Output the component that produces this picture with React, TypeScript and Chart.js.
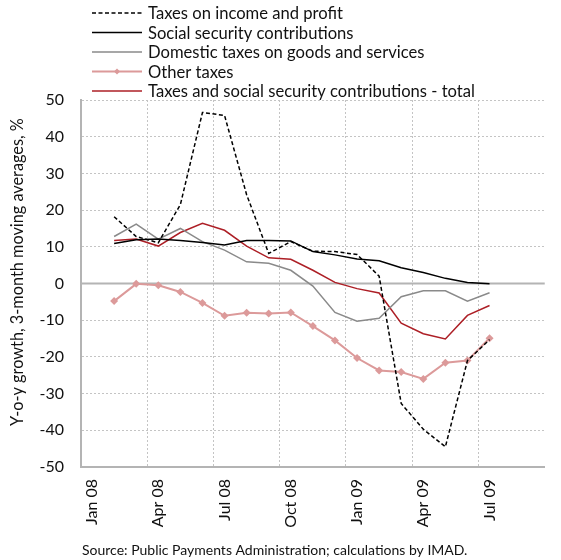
import React, { useEffect, useRef } from "react";
import { Chart, registerables } from "chart.js";

Chart.register(...registerables);

// Monthly categories, Jan 08 – Sep 09
const months = [
  "Jan 08", "Feb 08", "Mar 08", "Apr 08", "May 08", "Jun 08", "Jul 08",
  "Aug 08", "Sep 08", "Oct 08", "Nov 08", "Dec 08", "Jan 09", "Feb 09",
  "Mar 09", "Apr 09", "May 09", "Jun 09", "Jul 09", "Aug 09", "Sep 09",
];

// Y-o-y growth, 3-month moving averages, % (Feb 08 – Jul 09)
const incomeProfit = [null, 18.2, 12.8, 11.1, 21.5, 46.6, 45.8, 24.2, 8.2, 11.4, 8.8, 8.7, 7.9, 2.0, -32.7, -39.7, -44.5, -21.0, -15.3, null, null];
const socialSecurity = [null, 10.9, 11.9, 12.1, 11.7, 11.2, 10.5, 11.7, 11.7, 11.6, 8.7, 7.8, 6.7, 6.2, 4.3, 3.0, 1.4, 0.3, -0.1, null, null];
const domesticGoods = [null, 12.8, 16.2, 12.1, 15.0, 11.4, 9.1, 5.9, 5.5, 3.6, -0.7, -7.9, -10.3, -9.5, -3.6, -2.0, -2.0, -4.8, -2.5, null, null];
const otherTaxes = [null, -4.8, -0.1, -0.5, -2.3, -5.3, -8.8, -8.0, -8.2, -7.9, -11.6, -15.5, -20.3, -23.7, -24.1, -26.0, -21.6, -21.0, -14.9, null, null];
const totalTaxes = [null, 11.7, 12.1, 10.2, 13.9, 16.4, 14.5, 10.2, 7.0, 6.6, 3.6, 0.3, -1.4, -2.6, -10.8, -13.7, -15.1, -8.7, -6.0, null, null];

const yTicks = { min: -50, max: 50, step: 10 };

const FONT = "Lato, 'Open Sans', sans-serif";
const GRID = "#c4c4c4";
const AXIS = "#b4b4b4";

const overlay = {
  id: "overlay",
  beforeDatasetsDraw(chart: any) {
    const { ctx, chartArea, scales } = chart;
    const y0 = scales.y.getPixelForValue(0);
    ctx.save();
    ctx.strokeStyle = AXIS;
    ctx.lineWidth = 2;
    ctx.beginPath();
    ctx.moveTo(chartArea.left, y0);
    ctx.lineTo(chartArea.right, y0);
    ctx.stroke();
    ctx.restore();
  },
  afterDraw(chart: any) {
    const { ctx } = chart;
    ctx.save();
    // legend, one entry per row
    chart.data.datasets.forEach((ds: any, i: number) => {
      const y = 13 + i * 19.5;
      ctx.save();
      ctx.strokeStyle = ds.borderColor;
      ctx.lineWidth = ds.borderWidth;
      ctx.setLineDash(ds.borderDash || []);
      ctx.beginPath();
      ctx.moveTo(92, y);
      ctx.lineTo(142, y);
      ctx.stroke();
      ctx.restore();
      if (ds.pointRadius > 0) {
        ctx.save();
        ctx.fillStyle = ds.pointBackgroundColor;
        ctx.beginPath();
        ctx.moveTo(117, y - 3);
        ctx.lineTo(120, y);
        ctx.lineTo(117, y + 3);
        ctx.lineTo(114, y);
        ctx.closePath();
        ctx.fill();
        ctx.restore();
      }
      ctx.fillStyle = "#111";
      ctx.font = `16.6px ${FONT}`;
      ctx.textBaseline = "middle";
      ctx.textAlign = "left";
      ctx.fillText(ds.label, 148, y + 1);
    });

    // y axis title
    ctx.save();
    ctx.translate(18, 272);
    ctx.rotate(-Math.PI / 2);
    ctx.font = `16.3px ${FONT}`;
    ctx.fillStyle = "#111";
    ctx.textAlign = "center";
    ctx.textBaseline = "middle";
    ctx.fillText("Y-o-y growth, 3-month moving averages, %", 0, 0);
    ctx.restore();

    // source note
    ctx.font = `14px ${FONT}`;
    ctx.fillStyle = "#111";
    ctx.textAlign = "left";
    ctx.textBaseline = "middle";
    ctx.fillText("Source: Public Payments Administration; calculations by IMAD.", 82, 550);
    ctx.restore();
  },
};

export default function App() {
  const canvasRef = useRef<HTMLCanvasElement>(null);

  useEffect(() => {
    const canvas = canvasRef.current;
    if (!canvas) return;
    const line = (label: string, data: any[], color: string, extra: any = {}) => ({
      label,
      data,
      borderColor: color,
      backgroundColor: color,
      borderWidth: 1.5,
      pointRadius: 0,
      tension: 0,
      spanGaps: false,
      ...extra,
    });
    const chart = new Chart(canvas, {
      type: "line",
      data: {
        labels: months,
        datasets: [
          line("Taxes on income and profit", incomeProfit, "#000000", { borderDash: [4, 2.5] }),
          line("Social security contributions", socialSecurity, "#000000"),
          line("Domestic taxes on goods and services", domesticGoods, "#8a8a8a"),
          line("Other taxes", otherTaxes, "#dc9a9a", {
            borderWidth: 2,
            pointRadius: 4,
            pointStyle: "rectRot",
            pointBackgroundColor: "#dc9a9a",
            pointBorderColor: "#dc9a9a",
            pointBorderWidth: 0,
          }),
          line("Taxes and social security contributions - total", totalTaxes, "#ad1f26"),
        ],
      },
      options: {
        responsive: false,
        animation: false,
        layout: { padding: { top: 100, left: 0, right: 0, bottom: 0 } },
        plugins: { legend: { display: false }, tooltip: { enabled: false } },
        scales: {
          x: {
            type: "category",
            offset: true,
            afterFit: (scale: any) => {
              scale.height = 93;
            },
            grid: {
              offset: true,
              drawTicks: false,
              color: (c: any) => (c.index > 0 && c.index % 3 === 0 ? GRID : "rgba(0,0,0,0)"),
              lineWidth: 1,
            },
            border: { color: AXIS, width: 2, dash: [2, 2] },
            ticks: {
              autoSkip: false,
              minRotation: 90,
              maxRotation: 90,
              padding: 12,
              color: "#111",
              font: { family: FONT, size: 16 },
              callback: (_v: any, i: number) => (i % 3 === 0 ? months[i] : ""),
            },
          },
          y: {
            min: yTicks.min,
            max: yTicks.max,
            afterFit: (scale: any) => {
              scale.width = 81;
            },
            grid: {
              drawTicks: false,
              color: (c: any) => (c.tick && c.tick.value === 0 ? "rgba(0,0,0,0)" : GRID),
              lineWidth: 1,
            },
            border: { color: AXIS, width: 2, dash: [2, 2] },
            ticks: {
              stepSize: yTicks.step,
              padding: 17,
              color: "#111",
              font: { family: FONT, size: 16 },
            },
          },
        },
      },
      plugins: [overlay],
    });
    return () => chart.destroy();
  }, []);

  return (
    <div style={{ position: "fixed", left: 0, top: 0, width: 561, height: 560, overflow: "hidden", background: "#fff" }}>
      <canvas ref={canvasRef} width={565} height={560} style={{ width: 565, height: 560, display: "block" }} />
    </div>
  );
}
